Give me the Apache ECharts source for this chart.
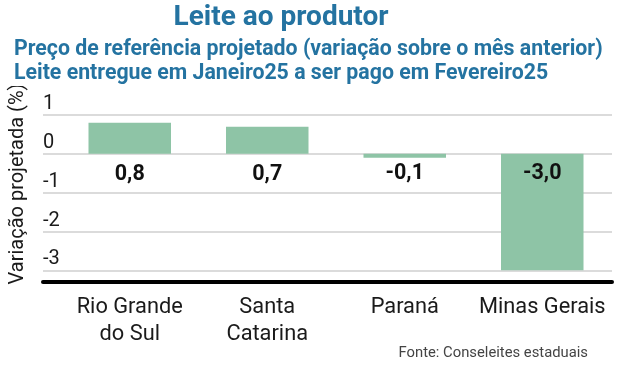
<!DOCTYPE html>
<html><head><meta charset="utf-8">
<script src="https://cdn.jsdelivr.net/npm/echarts@6/dist/echarts.min.js"></script>
<style>html,body{margin:0;padding:0;background:#fff}#c{width:630px;height:365px}</style>
</head><body><div id="c"></div>
<script>
const categories = ['Rio Grande\ndo Sul', 'Santa\nCatarina', 'Paraná', 'Minas Gerais'];
const values = [0.8, 0.7, -0.1, -3.0];
const labelTexts = ['0,8', '0,7', '-0,1', '-3,0'];
const titleText = 'Leite ao produtor';
const subtitle1 = 'Preço de referência projetado (variação sobre o mês anterior)';
const subtitle2 = 'Leite entregue em Janeiro25 a ser pago em Fevereiro25';
const yName = 'Variação projetada (%)';
const sourceText = 'Fonte: Conseleites estaduais';

const FONT = 'Roboto';
const BLUE = '#2473a1';
const chart = echarts.init(document.getElementById('c'));
const yMin = -3.3, yMax = 1;

chart.setOption({
  animation: false,
  textStyle: {fontFamily: FONT},
  grid: [
    {left: 43, right: 18, top: 115, bottom: 83},
    {left: 61, right: 19, top: 115, bottom: 83}
  ],
  xAxis: [
    {type: 'category', gridIndex: 0, data: [''], axisLine: {show: true, onZero: false, lineStyle: {color: '#000', width: 4}},
     axisTick: {show: false}, axisLabel: {show: false}},
    {type: 'category', gridIndex: 1, data: categories, axisLine: {show: false}, axisTick: {show: false},
     axisLabel: {interval: 0, fontSize: 21.8, color: '#1a1a1a', margin: 12, lineHeight: 27, fontFamily: FONT}}
  ],
  yAxis: [
    {type: 'value', gridIndex: 0, min: yMin, max: yMax, splitNumber: 5,
     axisLine: {show: false}, axisTick: {show: false},
     splitLine: {show: true, lineStyle: {color: '#cfcfcf', width: 1.5}},
     axisLabel: {inside: true, margin: 0, align: 'left', verticalAlign: 'bottom', fontSize: 20, color: '#1a1a1a', padding: [0, 0, 1, 0],
       formatter: v => Math.abs(v - Math.round(v)) < 1e-6 ? String(Math.round(v)) : ''}},
    {type: 'value', gridIndex: 1, min: yMin, max: yMax, show: false}
  ],
  series: [{
    type: 'bar', xAxisIndex: 1, yAxisIndex: 1, barWidth: '60%',
    itemStyle: {color: '#8ec4a6'},
    data: values.map((v, i) => ({
      value: v,
      label: {
        show: true,
        position: v >= 0 ? 'bottom' : (v > -0.5 ? 'bottom' : 'insideTop'),
        distance: v >= 0 ? 10 : (v > -0.5 ? 5 : 9),
        formatter: labelTexts[i],
        fontSize: 21.5, fontWeight: 'bold', color: '#111', fontFamily: FONT
      }
    }))
  }],
  graphic: [
    {type: 'text', x: 18, y: 184, rotation: Math.PI / 2, z: 1,
     style: {text: yName, fontSize: 20, fill: '#1a1a1a', align: 'center', verticalAlign: 'middle', fontFamily: FONT}},
    {type: 'text', x: 281, y: 18, z: 10,
     style: {text: titleText, fontSize: 28, fontWeight: 'bold', fill: BLUE, align: 'center', verticalAlign: 'middle', fontFamily: FONT}},
    {type: 'text', x: 14, y: 50, z: 10,
     style: {text: subtitle1, fontSize: 21.3, fontWeight: 'bold', fill: BLUE, align: 'left', verticalAlign: 'middle', fontFamily: FONT}},
    {type: 'text', x: 12, y: 74, z: 10,
     style: {text: subtitle2, fontSize: 21.3, fontWeight: 'bold', fill: BLUE, align: 'left', verticalAlign: 'middle', fontFamily: FONT,
       backgroundColor: '#fff', padding: [0, 2, 3, 2]}},
    {type: 'text', x: 588, y: 353, z: 10,
     style: {text: sourceText, fontSize: 14.8, fill: '#444', align: 'right', verticalAlign: 'middle', fontFamily: FONT}}
  ]
});
</script></body></html>
